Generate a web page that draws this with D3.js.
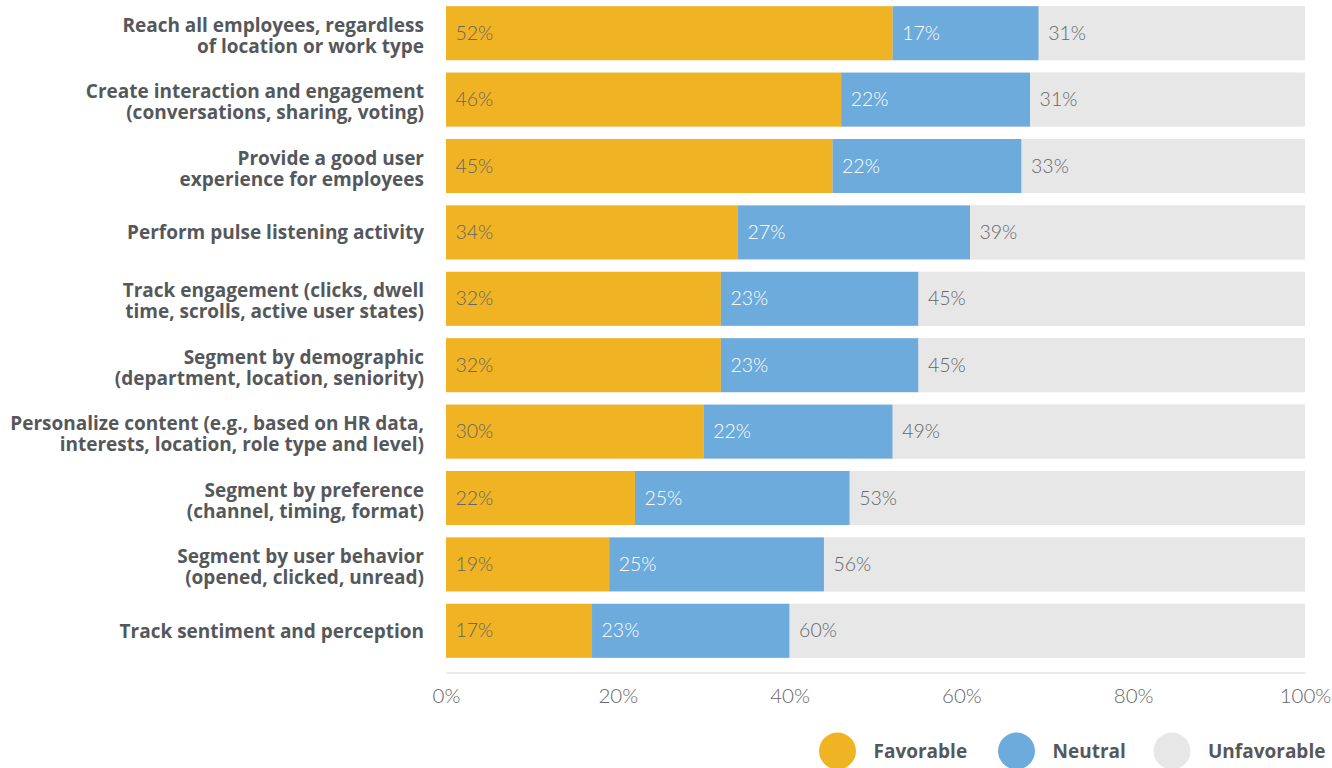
<!DOCTYPE html>
<html>
<head>
<meta charset="utf-8">
<script src="https://cdn.jsdelivr.net/npm/d3@7"></script>
<style>
  html, body { margin: 0; padding: 0; background: #fff; }
  svg { display: block; }
</style>
</head>
<body>
<svg id="chart" width="1332" height="768"></svg>
<script>
// Survey items (each label split into its display lines)
const categories = [
  ["Reach all employees, regardless", "of location or work type"],
  ["Create interaction and engagement", "(conversations, sharing, voting)"],
  ["Provide a good user", "experience for employees"],
  ["Perform pulse listening activity"],
  ["Track engagement (clicks, dwell", "time, scrolls, active user states)"],
  ["Segment by demographic", "(department, location, seniority)"],
  ["Personalize content (e.g., based on HR data,", "interests, location, role type and level)"],
  ["Segment by preference", "(channel, timing, format)"],
  ["Segment by user behavior", "(opened, clicked, unread)"],
  ["Track sentiment and perception"]
];

// Share of responses per item, in percent
const favorable   = [52, 46, 45, 34, 32, 32, 30, 22, 19, 17];
const neutral     = [17, 22, 22, 27, 23, 23, 22, 25, 25, 23];
const unfavorable = [31, 31, 33, 39, 45, 45, 49, 53, 56, 60];

const seriesNames = ["Favorable", "Neutral", "Unfavorable"];
const tickValues = [0, 20, 40, 60, 80, 100];

const colors = { Favorable: "#F0B323", Neutral: "#6DABDC", Unfavorable: "#E6E7E6" };
const labelColors = { Favorable: "#666666", Neutral: "#FFFFFF", Unfavorable: "#666666" };
const textColor = "#55585B";

const svg = d3.select("#chart");

const x = d3.scaleLinear().domain([0, 100]).range([446, 1305]);
const y = d3.scaleBand()
  .domain(d3.range(categories.length))
  .range([0, 664])
  .paddingInner(0.187)
  .paddingOuter(0.0935);

const rows = categories.map((c, i) => ({
  i,
  Favorable: favorable[i],
  Neutral: neutral[i],
  Unfavorable: unfavorable[i]
}));

const stacked = d3.stack().keys(seriesNames)(rows);

// Rounded shares can add up to 101%, so bars are clipped at the 100% mark
svg.append("defs").append("clipPath")
  .attr("id", "plot-clip")
  .append("rect")
  .attr("x", x(0))
  .attr("y", 0)
  .attr("width", x(100) - x(0))
  .attr("height", 672);

const plot = svg.append("g").attr("clip-path", "url(#plot-clip)");

// Full-width track behind every bar
plot.append("g")
  .selectAll("rect")
  .data(rows)
  .join("rect")
  .attr("x", x(0))
  .attr("y", d => y(d.i))
  .attr("width", x(100) - x(0))
  .attr("height", y.bandwidth())
  .attr("fill", colors.Unfavorable);

// Stacked segments
const layer = plot.append("g")
  .selectAll("g")
  .data(stacked)
  .join("g")
  .attr("fill", s => colors[s.key]);

layer.selectAll("rect")
  .data(s => s.map(d => ({ key: s.key, d })))
  .join("rect")
  .attr("x", e => x(e.d[0]))
  .attr("y", e => y(e.d.data.i))
  .attr("width", e => x(e.d[1]) - x(e.d[0]))
  .attr("height", y.bandwidth());

// Value labels inside each segment
layer.selectAll("text")
  .data(s => s.map(d => ({ key: s.key, d })))
  .join("text")
  .attr("x", e => x(e.d[0]) + 9.5)
  .attr("y", e => y(e.d.data.i) + y.bandwidth() / 2)
  .attr("dy", "0.34em")
  .attr("fill", e => labelColors[e.key])
  .style("font-family", "Lato, 'Open Sans', sans-serif")
  .style("font-weight", 300)
  .style("font-size", "19.5px")
  .text(e => `${e.d.data[e.key]}%`);

// Category labels, right-aligned to the left of the bars
const catG = svg.append("g")
  .selectAll("text")
  .data(categories)
  .join("text")
  .attr("text-anchor", "end")
  .attr("fill", textColor)
  .style("font-family", "'Open Sans', sans-serif")
  .style("font-weight", 700)
  .style("font-size", "19px")
  .attr("transform", (c, i) => {
    const cy = y(i) + y.bandwidth() / 2;
    const base = c.length === 1 ? cy + 7 : cy - 1.5;
    return `translate(424,${base})`;
  });

catG.selectAll("tspan")
  .data(c => c)
  .join("tspan")
  .attr("x", 0)
  .attr("y", (t, j) => j * 21)
  .text(t => t);

// Bottom axis
const axis = d3.axisBottom(x)
  .tickValues(tickValues)
  .tickFormat(d => `${d}%`)
  .tickSize(0)
  .tickPadding(16);

const axisG = svg.append("g")
  .attr("transform", "translate(0,672.5)")
  .call(axis);

axisG.select(".domain").attr("stroke", "#E2E3E2").attr("stroke-width", 1.5);
axisG.selectAll("text")
  .attr("fill", "#666666")
  .style("font-family", "Lato, 'Open Sans', sans-serif")
  .style("font-weight", 300)
  .style("font-size", "20.5px");

// Legend
const legendX = [837.5, 1016.5, 1172];
const legend = svg.append("g")
  .selectAll("g")
  .data(seriesNames)
  .join("g")
  .attr("transform", (k, i) => `translate(${legendX[i]},751)`);

legend.append("circle")
  .attr("r", 18.5)
  .attr("fill", k => colors[k]);

legend.append("text")
  .attr("x", 36)
  .attr("dy", "0.36em")
  .attr("fill", textColor)
  .style("font-family", "'Open Sans', sans-serif")
  .style("font-weight", 700)
  .style("font-size", "19px")
  .text(k => k);
</script>
</body>
</html>
